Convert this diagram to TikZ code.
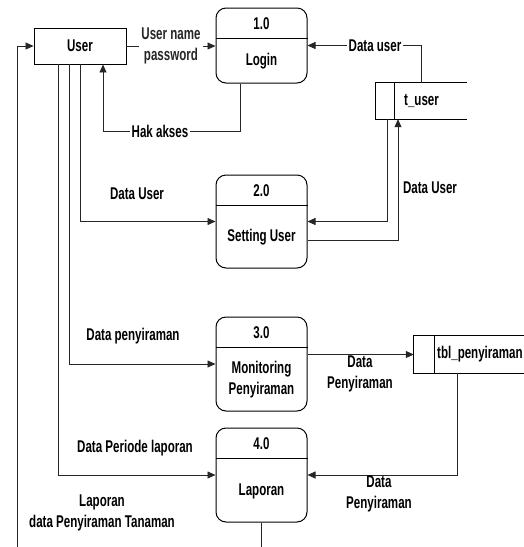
\documentclass[tikz,border=0pt]{standalone}
\usepackage{fontspec}
\setmainfont{Liberation Sans}[FakeStretch=0.68]
\usetikzlibrary{arrows.meta}
\begin{document}
\begin{tikzpicture}[x=1pt,y=-1pt,
  every node/.style={font=\bfseries\fontsize{17}{21}\selectfont, inner sep=1pt},
  proc/.style={draw=black, line width=1pt, rounded corners=10pt, minimum width=91pt},
  divider/.style={black, line width=1pt},
  ent/.style={draw=black, line width=0.9pt, minimum width=92pt, minimum height=36pt},
  holder/.style={inner sep=0pt, minimum height=36pt},
  storeline/.style={black, line width=0.9pt},
  edge/.style={black!85, line width=0.8pt},
  flow/.style={edge, -{Triangle[length=8pt,width=7pt]}},
  lbl/.style={fill=white, align=center, inner sep=2pt},
  txt/.style={align=center}
]
\useasboundingbox (0,0) rectangle (524,547);

% external entity
\node[ent] (u) at (80,46) {User};

% processes
\node[proc, minimum height=75pt] (p1) at (261.5,45.5) {};
\draw[divider] ([yshift=-31pt]p1.north west) -- ([yshift=-31pt]p1.north east);
\node (p1n) at (261.5,23.5) {1.0};
\node (p1t) at (261.5,61) {Login};

\node[proc, minimum height=93pt] (p2) at (261.5,221.5) {};
\draw[divider] ([yshift=-31pt]p2.north west) -- ([yshift=-31pt]p2.north east);
\node (p2n) at (261.5,190.5) {2.0};
\node (p2t) at (261.5,237) {Setting User};

\node[proc, minimum height=94pt] (p3) at (261.5,364) {};
\draw[divider] ([yshift=-31pt]p3.north west) -- ([yshift=-31pt]p3.north east);
\node (p3n) at (261.5,332.5) {3.0};
\node[txt] (p3t) at (261.5,380) {Monitoring\\Penyiraman};

\node[proc, minimum height=94pt] (p4) at (261.5,475) {};
\draw[divider] ([yshift=-31pt]p4.north west) -- ([yshift=-31pt]p4.north east);
\node (p4n) at (261.5,443.5) {4.0};
\node (p4t) at (261.5,491) {Laporan};

% data stores
\node[holder, minimum width=91pt] (tu) at (421.5,101) {};
\draw[storeline] (tu.north west) -- (tu.north east);
\draw[storeline] (tu.south west) -- (tu.south east);
\draw[storeline] (tu.north west) rectangle ([xshift=19pt]tu.south west);
\node[anchor=west] (tut) at (403,101) {t\_user};

\node[holder, minimum width=110pt, minimum height=37pt] (tb) at (469,354.5) {};
\draw[storeline] (tb.north west) -- (tb.north east);
\draw[storeline] (tb.south west) -- (tb.south east);
\draw[storeline] (tb.north west) rectangle ([xshift=21pt]tb.south west);
\node[anchor=west] (tbt) at (436,354.5) {tbl\_penyiraman};

% free ends at the lower edge
\coordinate (b1) at (261.5,547);
\coordinate (b2) at (17,547);

% flows
\draw[flow] (u.east) -- (u.east -| p1.west)
  node[lbl, midway] {User name\\password};

\draw[flow] ([xshift=-21.5pt]p1.south) -- ++(0,48) -| ([xshift=23pt]u.south);
\node[lbl] (hak) at (160,131) {Hak akses};

\draw[flow] (tu.north) |- (p1.east);
\node[lbl] (du1) at (375,46) {Data user};

\draw[flow] ([xshift=-34.5pt]tu.south) |- (p2.east);
\draw[flow] ([yshift=-18.5pt]p2.east) -| ([xshift=-23.5pt]tu.south);
\node[txt] (du2) at (430,188) {Data User};

\draw[flow] (u.south) |- (p2.west);
\node[txt] (du3) at (137,194) {Data User};

\draw[flow] ([xshift=-11pt]u.south) |- (p3.west);
\node[txt] (dp1) at (133,336) {Data penyiraman};

\draw[flow] ([xshift=-22pt]u.south) |- (p4.west);
\node[txt] (dpl) at (135,448) {Data Periode laporan};

\draw[flow] (p3.east |- tb.west) -- (tb.west);
\node[txt] (dp2) at (360,373.5) {Data\\Penyiraman};

\draw[flow] ([xshift=-12pt]tb.south) |- (p4.east);
\node[txt] (dp3) at (379,493.5) {Data\\Penyiraman};

\draw[edge] (p4.south) -- (b1);
\draw[flow] (b2) |- (u.west);
\node[txt] (lap) at (102,512.5) {Laporan\\data Penyiraman Tanaman};

\end{tikzpicture}
\end{document}
